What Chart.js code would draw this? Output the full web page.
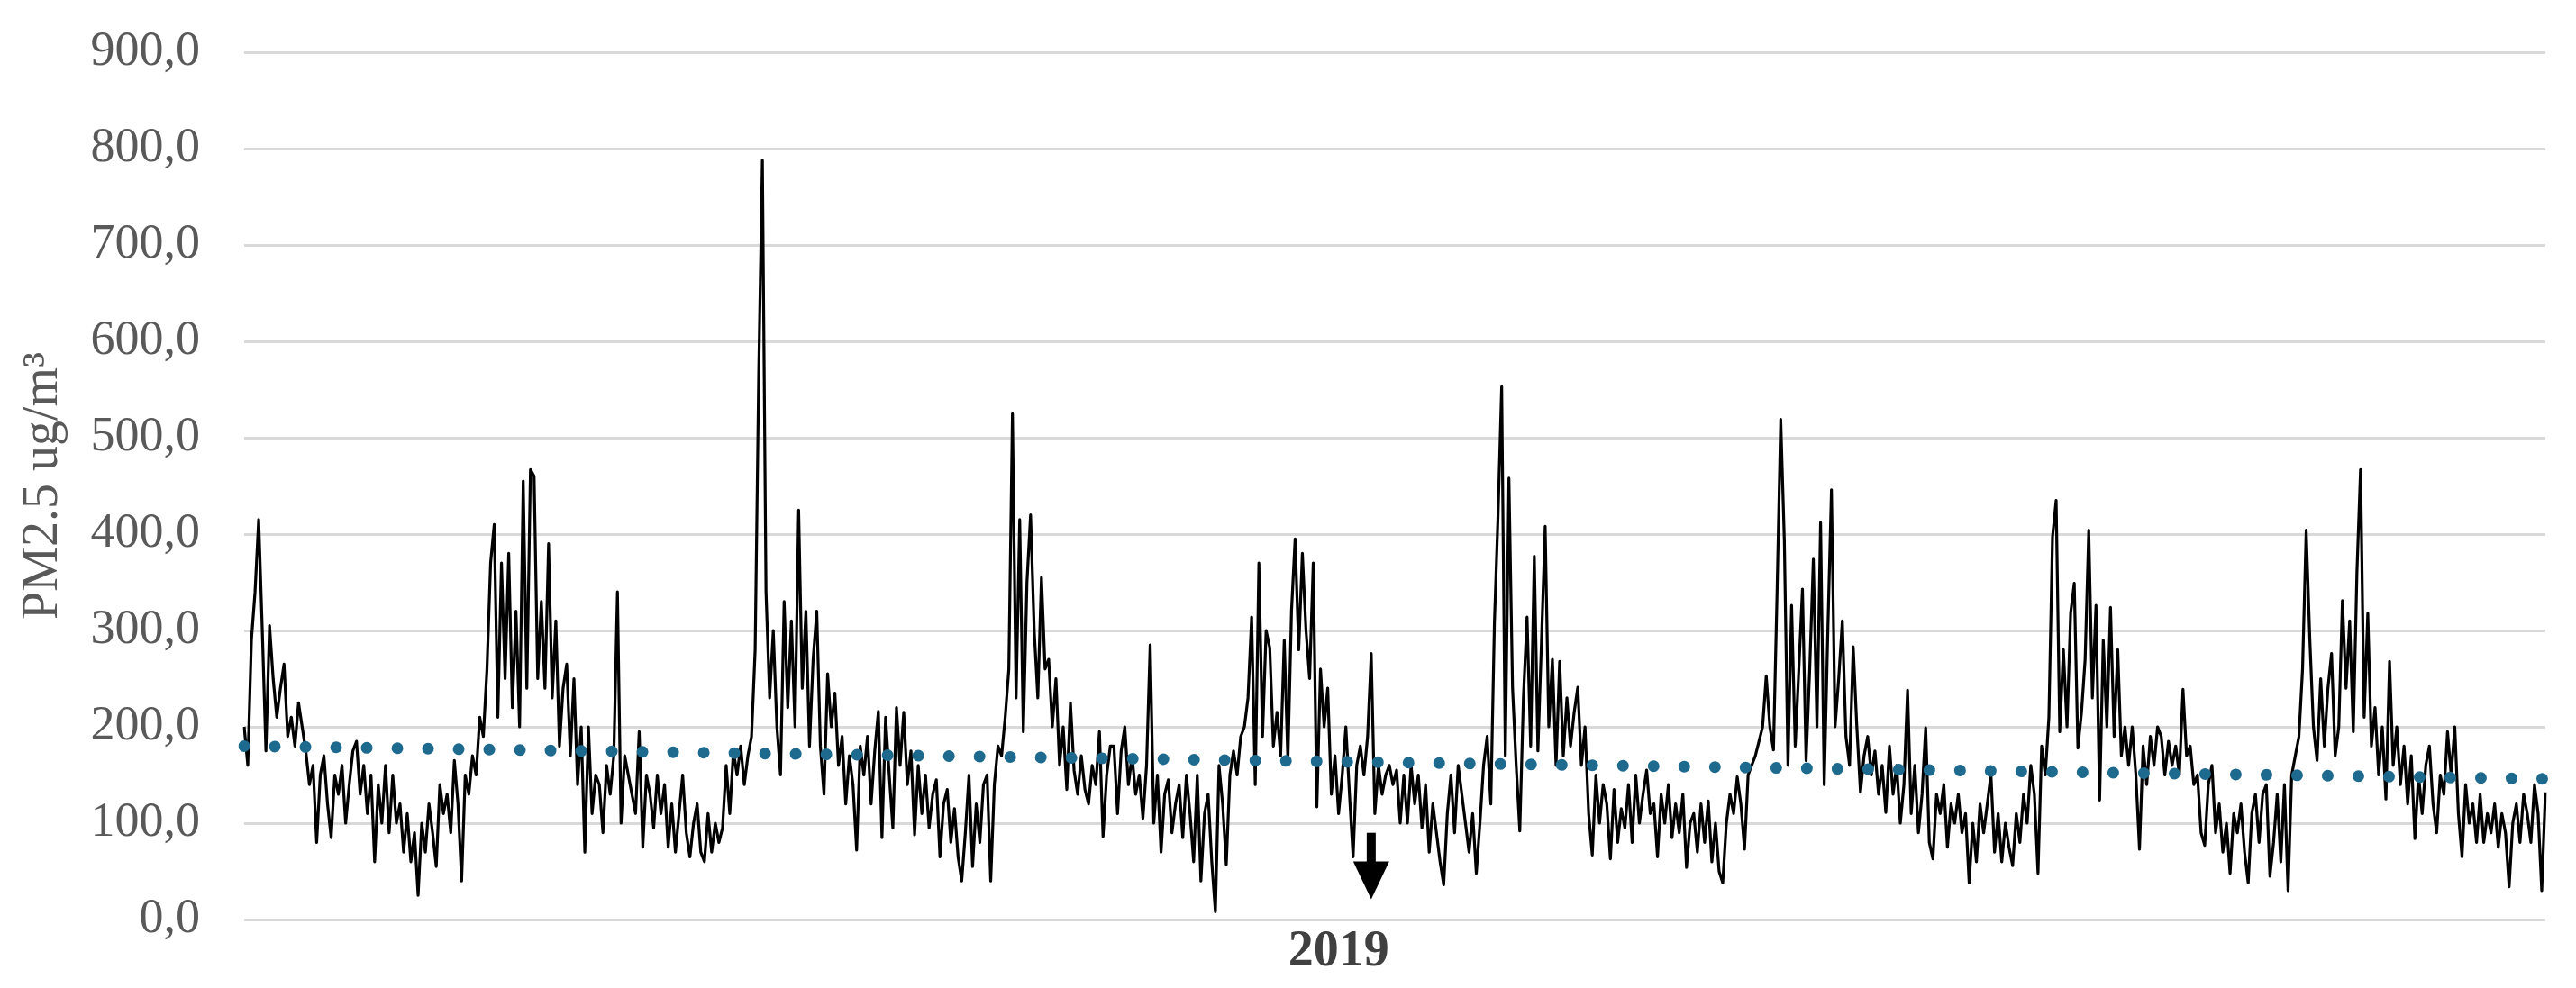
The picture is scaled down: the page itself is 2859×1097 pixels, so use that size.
<!DOCTYPE html>
<html>
<head>
<meta charset="utf-8">
<script src="https://cdn.jsdelivr.net/npm/chart.js@4.4.1/dist/chart.umd.min.js"></script>
<style>
  html, body { margin: 0; padding: 0; background: #fff; }
  #wrap { width: 2859px; height: 1097px; }
</style>
</head>
<body>
<div id="wrap"><canvas id="pmChart"></canvas></div>
<script>
// daily PM2.5 readings (left to right)
const seg1 = [200,160,290,340,415,300,175,305,250,210, 240,265,190,210,180,225,200,175,140,160,
  80,150,170,120,85,150,130,160,100,140, 175,185,130,160,110,150,60,140,100,160,
  90,150,100,120,70,110,60,90,25,100, 70,120,90,55,140,110,130,90,165,120,
  40,150,130,170,150,210,190,260,370,410, 210,370,250,380,220,320,200,455,240,467];
const seg2 = [460,250,330,240,390,230,310,180,240,265, 170,250,140,200,70,200,110,150,140,90,
  160,130,170,340,100,170,150,130,110,195, 75,150,130,95,150,110,140,75,120,70,
  110,150,90,65,100,120,70,60,110,70, 100,80,95,160,110,175,150,180,140,170,
  190,280,570,788,340,230,300,200,150,330, 220,310,200,425,240,320,180,270,320,180];
const seg3 = [130,255,200,235,160,190,120,170,140,72, 180,150,190,120,175,216,85,210,150,95,
  220,160,215,140,175,88,160,110,150,95, 130,145,65,120,135,80,115,65,40,90,
  150,55,120,80,140,150,40,140,180,170, 210,260,525,230,415,195,350,420,300,230,
  355,260,270,200,250,160,200,135,225,155, 130,170,135,120,160,140,195,86,150,180];
const seg4 = [180,110,175,200,140,170,130,150,105,160, 285,100,150,70,130,145,90,120,140,85,
  150,110,60,150,40,110,130,60,8,160, 120,57,150,175,150,190,200,230,314,140,
  370,190,300,282,180,215,170,290,165,320, 395,280,380,300,250,370,117,260,200,240,
  130,170,110,150,200,130,65,160,180,150, 190,276,110,160,130,150,160,140,155,100];
const seg5 = [150,100,160,120,150,95,140,70,120,90, 60,36,110,150,90,160,130,100,70,110,
  48,100,160,190,120,308,420,553,170,458, 240,160,92,230,314,180,377,175,290,408,
  200,270,160,268,170,230,180,215,241,160, 200,110,67,150,100,140,120,63,135,80,
  115,95,140,80,150,100,130,155,110,120, 65,130,100,140,85,120,90,130,54,100];
const seg6 = [110,70,120,80,123,60,100,50,38,100, 130,110,148,120,73,150,160,170,185,200,
  253,200,176,341,519,393,160,326,180,260, 343,165,260,374,200,412,140,300,446,200,
  250,310,190,160,283,200,132,170,190,150, 175,130,160,111,180,130,160,100,140,238,
  110,160,90,130,199,80,63,130,110,140, 75,120,100,130,90,110,38,100,60,120];
const seg7 = [90,120,151,70,110,60,100,75,56,110, 80,130,100,160,130,48,180,150,210,397,
  435,195,280,200,318,349,178,215,270,404, 230,326,124,290,200,324,190,280,170,200,
  160,200,150,73,180,140,190,160,200,190, 150,185,160,180,150,239,170,180,140,150,
  90,77,140,160,90,120,70,100,48,110, 90,120,70,38,110,130,80,130,140,45];
const seg8 = [80,130,60,140,30,150,170,190,260,404, 291,200,165,250,180,240,276,170,200,331,
  240,310,195,360,467,210,318,180,220,150, 200,125,268,160,200,140,180,120,170,84,
  150,110,160,180,120,90,150,130,195,150, 200,110,65,140,100,120,80,130,80,110,
  90,120,75,110,90,34,100,120,80,130, 110,80,140,110,30,132];

// linear trend line end values
const trendStart = 180;
const trendEnd = 146;

// y axis ticks
const yMin = 0;
const yMax = 900;
const yStep = 100;

// marker: arrow pointing at the start of 2019
const yearLabel = '2019';
const arrowIndex = 311;
const arrowTop = 90;
const arrowTip = 21;

const pm25 = [].concat(seg1, seg2, seg3, seg4, seg5, seg6, seg7, seg8);
const days = pm25.map((_, i) => i + 1);
const trend = pm25.map((_, i) => (i === 0 ? trendStart : i === pm25.length - 1 ? trendEnd : null));

const arrowMarker = {
  id: 'arrowMarker',
  afterDatasetsDraw(chart) {
    const { ctx, chartArea } = chart;
    const x = chart.scales.x;
    const y = chart.scales.y;
    const px = x.getPixelForValue(arrowIndex);
    const top = y.getPixelForValue(arrowTop);
    const tip = y.getPixelForValue(arrowTip);
    const headH = 42;
    ctx.save();
    ctx.fillStyle = '#000';
    ctx.fillRect(px - 5, top, 10, tip - headH - top + 1);
    ctx.beginPath();
    ctx.moveTo(px - 20, tip - headH);
    ctx.lineTo(px + 20, tip - headH);
    ctx.lineTo(px, tip);
    ctx.closePath();
    ctx.fill();
    ctx.font = 'bold 56px "Liberation Serif"';
    ctx.fillStyle = '#404040';
    ctx.textAlign = 'center';
    ctx.textBaseline = 'alphabetic';
    ctx.fillText(yearLabel, px - 36, chartArea.bottom + 51);
    ctx.restore();
  }
};

new Chart(document.getElementById('pmChart').getContext('2d'), {
  type: 'line',
  data: {
    labels: days,
    datasets: [
      {
        label: 'Trend',
        data: trend,
        spanGaps: true,
        borderColor: '#1d6a8e',
        borderWidth: 13,
        borderDash: [0.01, 34],
        borderCapStyle: 'round',
        pointRadius: 0,
        fill: false
      },
      {
        label: 'PM2.5',
        data: pm25,
        borderColor: '#000',
        borderWidth: 3.2,
        borderJoinStyle: 'round',
        pointRadius: 0,
        tension: 0,
        fill: false
      }
    ]
  },
  plugins: [arrowMarker],
  options: {
    responsive: true,
    maintainAspectRatio: false,
    animation: false,
    layout: { padding: { left: 0, right: 34, top: 58, bottom: 76 } },
    plugins: {
      legend: { display: false },
      tooltip: { enabled: false }
    },
    scales: {
      x: {
        type: 'category',
        display: false,
        offset: false
      },
      y: {
        min: yMin,
        max: yMax,
        afterFit: (scale) => {
          scale.width = 271;
          scale.paddingTop = 0;
          scale.paddingBottom = 0;
        },
        border: { display: false },
        grid: { color: '#d9d9d9', lineWidth: 3, drawTicks: false },
        ticks: {
          stepSize: yStep,
          padding: 49,
          color: '#595959',
          font: { family: '"Liberation Serif"', size: 54 },
          callback: (v) => v.toFixed(1).replace('.', ',')
        },
        title: {
          display: true,
          text: 'PM2.5 ug/m³',
          color: '#595959',
          padding: { top: 15, bottom: 0 },
          font: { family: '"Liberation Serif"', size: 56, lineHeight: 1.2 }
        }
      }
    }
  }
});
</script>
</body>
</html>
